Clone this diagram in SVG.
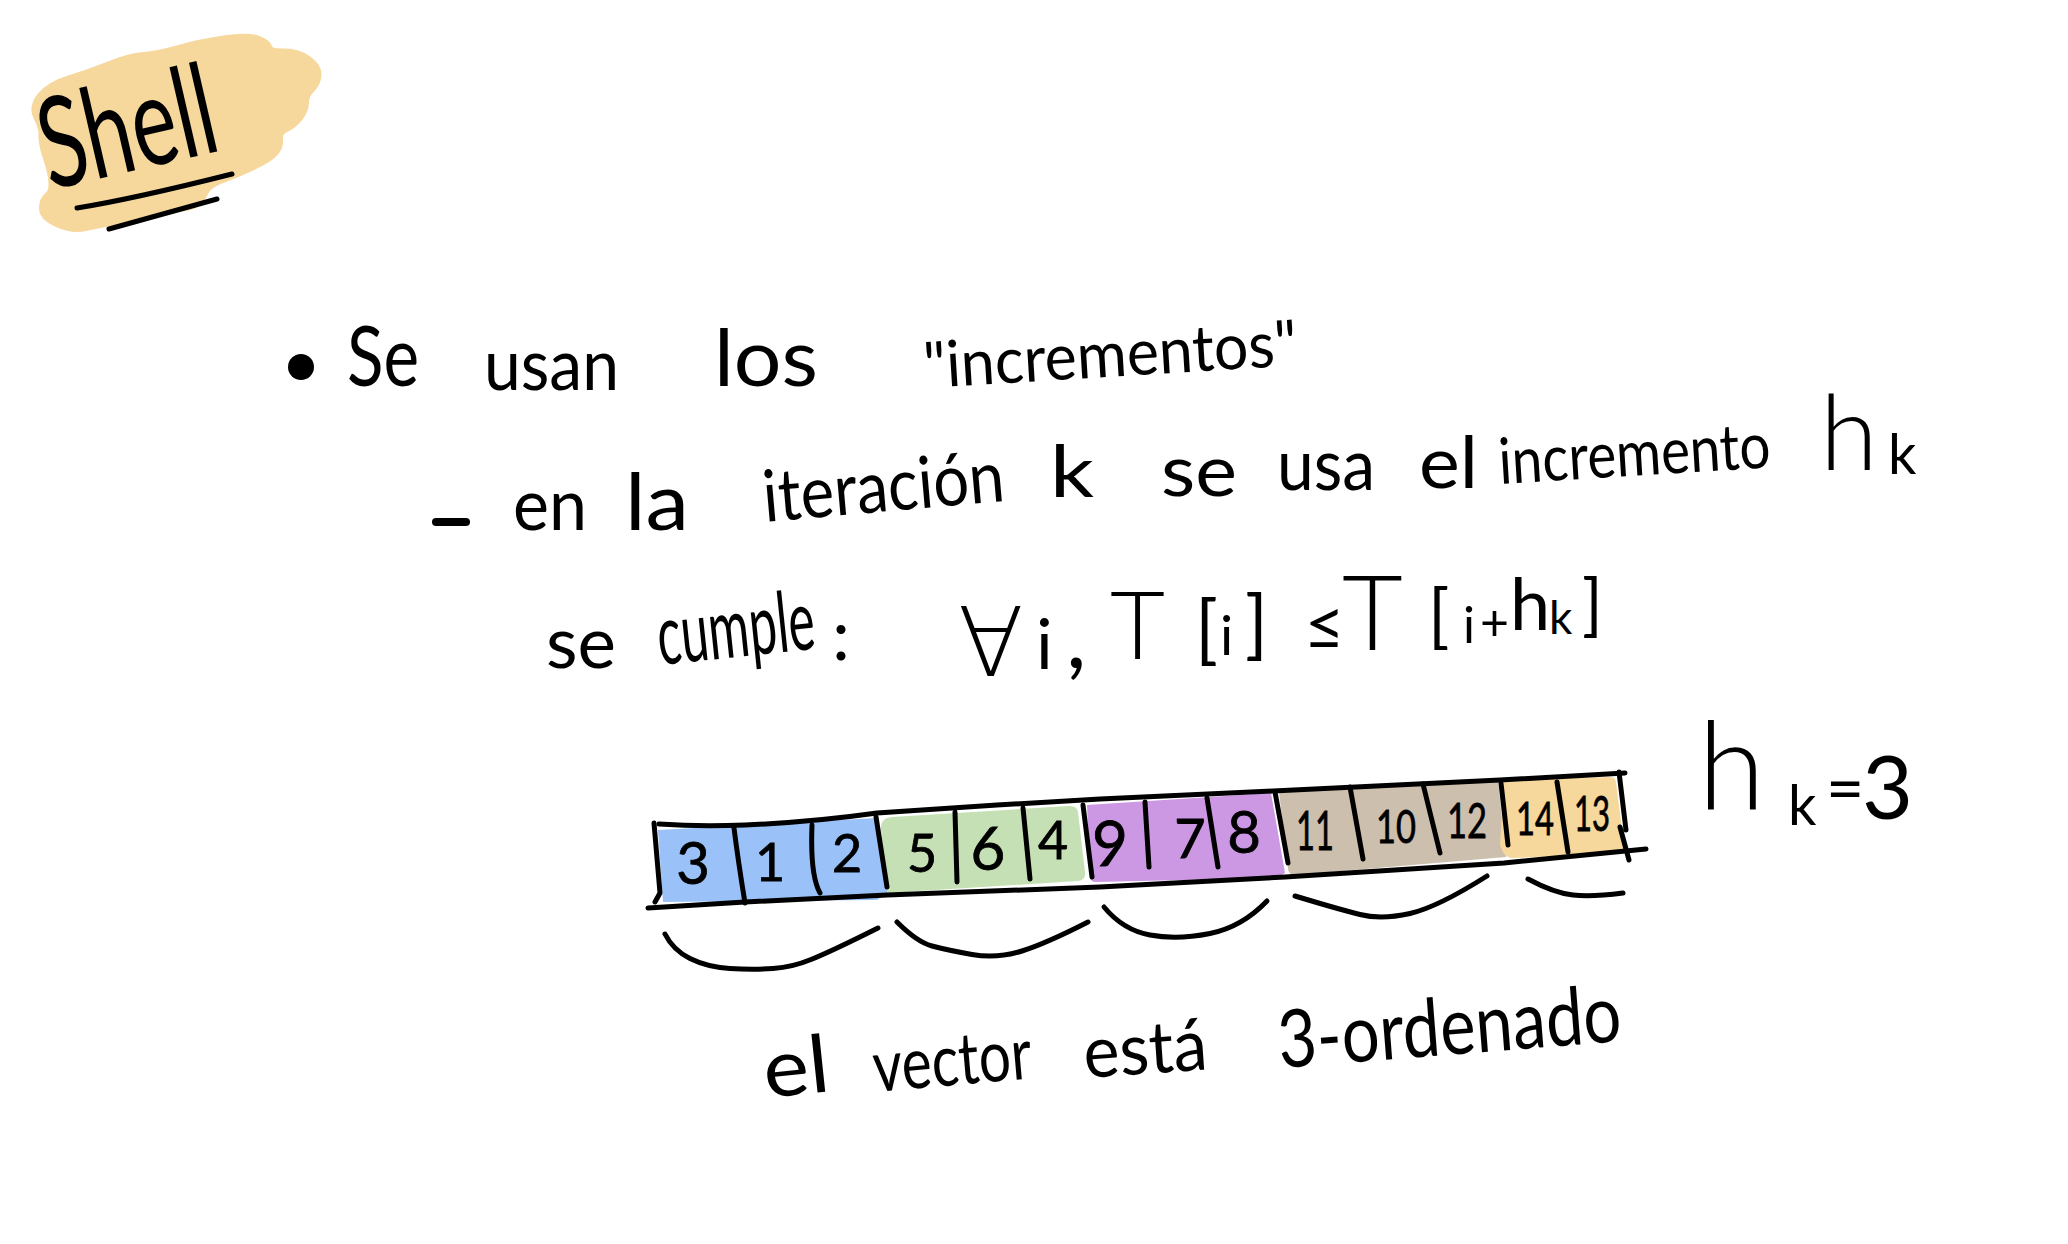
<svg xmlns="http://www.w3.org/2000/svg" width="2068" height="1244" viewBox="0 0 2068 1244">
<style>
text{font-family:Lato,"DejaVu Sans",sans-serif;fill:#000;font-weight:400}
.w{font-size:72px}
.s{font-size:64px}
.big{font-weight:300}
.d text{stroke:#000;stroke-width:.8px}
.ink{fill:none;stroke:#000;stroke-width:5;stroke-linecap:round;stroke-linejoin:round}
</style>
<rect width="2068" height="1244" fill="#fff"/>
<g id="title">
<path fill="#f6d79c" stroke="#f6d79c" stroke-width="8" stroke-linejoin="round" d="M41 96Q50 85 70 79Q90 73 110 65Q130 57 143.500 56Q157 55 178.500 49Q200 43 224 39.500Q248 36 257.500 39.500Q267 43 268.500 48Q270 53 283.500 52.500Q297 52 307.500 59.500Q318 67 317.500 75Q317 83 311 89Q305 95 305 102.500Q305 110 299 117.500Q293 125 285.500 128.500Q278 132 279 139.500Q280 147 273.500 153.500Q267 160 250 167.500Q233 175 220 180Q207 185 203.500 194Q200 203 190 206L85 227Q73 230 58 223.500Q43 217 43 208.500Q43 200 48 196Q53 192 52.500 182.500Q52 173 47 158Q42 143 42.500 135.500Q43 128 37.500 117.500Q32 107 41 96Z"/>
<text transform="translate(50 190) rotate(-13)" font-size="126" textLength="178" lengthAdjust="spacingAndGlyphs">Shell</text>
<path class="ink" d="M77 208Q133 199 232 174M109 229L217 199"/>
</g>
<g id="line1">
<circle cx="301" cy="367" r="13" fill="#000"/>
<text class="w" x="347" y="386" style="font-size:84px" textLength="72" lengthAdjust="spacingAndGlyphs">Se</text>
<text class="w" x="484" y="390" textLength="135" lengthAdjust="spacingAndGlyphs">usan</text>
<text class="w" x="714" y="386" style="font-size:80px" textLength="104" lengthAdjust="spacingAndGlyphs">los</text>
<text class="s" transform="translate(925 388) rotate(-3.500)" textLength="374" lengthAdjust="spacingAndGlyphs">"incrementos"</text>
</g>
<g id="line2">
<path d="M436 522H466" fill="none" stroke="#000" stroke-width="8" stroke-linecap="round"/>
<text class="w" x="513" y="530" textLength="74" lengthAdjust="spacingAndGlyphs">en</text>
<text class="w" x="625" y="530" style="font-size:80px" textLength="64" lengthAdjust="spacingAndGlyphs">la</text>
<text class="w" transform="translate(765 522) rotate(-5)" textLength="242" lengthAdjust="spacingAndGlyphs">iteración</text>
<text class="w" x="1050" y="497" textLength="44" lengthAdjust="spacingAndGlyphs">k</text>
<text class="w" x="1161" y="496" textLength="76" lengthAdjust="spacingAndGlyphs">se</text>
<text class="w" x="1277" y="490" textLength="98" lengthAdjust="spacingAndGlyphs">usa</text>
<text class="w" x="1419" y="488" textLength="59" lengthAdjust="spacingAndGlyphs">el</text>
<text class="s" transform="translate(1500 484) rotate(-3.500)" textLength="272" lengthAdjust="spacingAndGlyphs">incremento</text>
<text class="big" x="1820" y="470" style="font-size:105px">h<tspan x="1888" y="474" style="font-size:56px;font-weight:400">k</tspan></text>
</g>
<g id="line3">
<text class="w" x="546" y="668" textLength="70" lengthAdjust="spacingAndGlyphs">se</text>
<text class="w" transform="translate(660 665) rotate(-6)" style="font-size:84px" textLength="158" lengthAdjust="spacingAndGlyphs">cumple</text>
<text class="w" x="832" y="660">:</text>
</g>
<g id="formula">
<text class="big"><tspan x="958" y="676" style="font-size:96px">∀</tspan><tspan x="1036" y="669" style="font-size:70px;font-weight:400">i</tspan><tspan x="1066" y="668" style="font-size:90px;font-weight:400">, </tspan><tspan x="1110" y="659" style="font-size:95px">T</tspan><tspan x="1195" y="655" style="font-size:75px;font-weight:400">[</tspan><tspan x="1220" y="655" style="font-size:55px;font-weight:400">i</tspan><tspan x="1245" y="650" style="font-size:75px;font-weight:400">] </tspan><tspan x="1304" y="650" style="font-size:70px;font-weight:400">≤ </tspan><tspan x="1342" y="650" style="font-size:105px">T</tspan><tspan x="1428" y="640" style="font-size:70px;font-weight:400">[</tspan><tspan x="1463" y="643" style="font-size:50px;font-weight:400">i</tspan><tspan x="1480" y="640" style="font-size:50px;font-weight:400">+</tspan><tspan x="1510" y="630" style="font-size:72px;font-weight:400">h</tspan><tspan x="1549" y="634" style="font-size:46px;font-weight:400">k</tspan><tspan x="1582" y="628" style="font-size:68px;font-weight:400">]</tspan></text>
</g>
<g id="hk">
<text class="big"><tspan x="1698" y="809" style="font-size:122px">h</tspan><tspan x="1788" y="825" style="font-size:56px;font-weight:400">k</tspan><tspan x="1826" y="812" style="font-size:66px;font-weight:400">=</tspan><tspan x="1862" y="819" style="font-size:88px;font-weight:400">3</tspan></text>
</g>
<g id="array">
<path fill="#9ac2f9" d="M658 830L877 818L888 893L877 900L663 902Z"/>
<path fill="#c5e0b4" d="M892 817L1068 806Q1077 805 1078 812L1085 872Q1086 880 1078 881L887 893L881 830Q880 818 892 817Z"/>
<path fill="#cc97e3" d="M1087 805L1271 793L1285 873L1276 878L1096 882Q1090 882 1090 876Z"/>
<path fill="#cdbfae" d="M1279 792L1498 780L1506 857L1295 875Q1288 875 1288 868Z"/>
<path fill="#f6d79c" d="M1504 780L1610 777Q1615 777 1616 782L1625 853L1512 858Q1504 858 1500 845Z"/>
<g id="array-lines" class="ink">
<path d="M659 824Q700 827 745 825Q813 822 877 813L997 805L1100 799L1273 791L1500 780L1625 773"/>
<path d="M648 908L745 902L887 895L1100 887L1285 877L1504 863L1646 849"/>
<path d="M654 823L660 893L655 902M734 828Q738 860 745 903M812 825Q810 875 820 893M876 817L887 887M955 812L957 882M1023 808L1030 879M1083 805L1092 877M1145 802L1149 867M1207 798L1218 867M1275 792L1288 863M1350 787L1363 859M1423 784L1440 853M1501 783L1508 845M1557 782L1568 852M1619 772L1626 830M1620 827L1629 860"/>
</g>
<g class="d">
<text x="693" y="884" text-anchor="middle" font-size="58">3</text>
<text x="770" y="881" text-anchor="middle" font-size="52">1</text>
<text x="847" y="872" text-anchor="middle" font-size="52">2</text>
<text x="922" y="872" text-anchor="middle" font-size="52">5</text>
<text x="988" y="870" text-anchor="middle" font-size="60">6</text>
<text x="1053" y="859" text-anchor="middle" font-size="52">4</text>
<text x="1110" y="866" text-anchor="middle" font-size="62">9</text>
<text x="1190" y="858" text-anchor="middle" font-size="54">7</text>
<text x="1244" y="853" text-anchor="middle" font-size="58">8</text>
<text x="1315" y="850" text-anchor="middle" font-size="54" textLength="38" lengthAdjust="spacingAndGlyphs">11</text>
<text x="1396" y="843" text-anchor="middle" font-size="46" textLength="40" lengthAdjust="spacingAndGlyphs">10</text>
<text x="1467" y="838" text-anchor="middle" font-size="48" textLength="40" lengthAdjust="spacingAndGlyphs">12</text>
<text x="1535" y="835" text-anchor="middle" font-size="46" textLength="38" lengthAdjust="spacingAndGlyphs">14</text>
<text x="1592" y="831" text-anchor="middle" font-size="48" textLength="36" lengthAdjust="spacingAndGlyphs">13</text>
</g>
</g>
<g id="braces" class="ink">
<path d="M665 934Q673 950 690 958.500Q707 967 730 968.500Q753 970 773 968.500Q793 967 811 959.500Q830 952 878 928"/>
<path d="M897 922Q917 942 932 946Q947 950 972 954.500Q997 959 1022 951Q1047 943 1088 922"/>
<path d="M1104 907Q1123 930 1150 935Q1177 940 1210 933.500Q1242 927 1267 901"/>
<path d="M1295 896Q1338 909 1360 914.500Q1381 920 1410 913.500Q1438 907 1487 876"/>
<path d="M1528 879Q1554 893 1573 895Q1592 897 1623 893"/>
</g>
<g id="caption">
<text class="w" transform="translate(766 1098) rotate(-6)" style="font-size:80px" textLength="66" lengthAdjust="spacingAndGlyphs">el</text>
<text class="w" transform="translate(875 1092) rotate(-5)" textLength="159" lengthAdjust="spacingAndGlyphs">vector</text>
<text class="w" transform="translate(1085 1078) rotate(-4)" textLength="124" lengthAdjust="spacingAndGlyphs">está</text>
<text class="w" transform="translate(1280 1068) rotate(-4.500)" style="font-size:80px" textLength="344" lengthAdjust="spacingAndGlyphs">3-ordenado</text>
</g>
</svg>
